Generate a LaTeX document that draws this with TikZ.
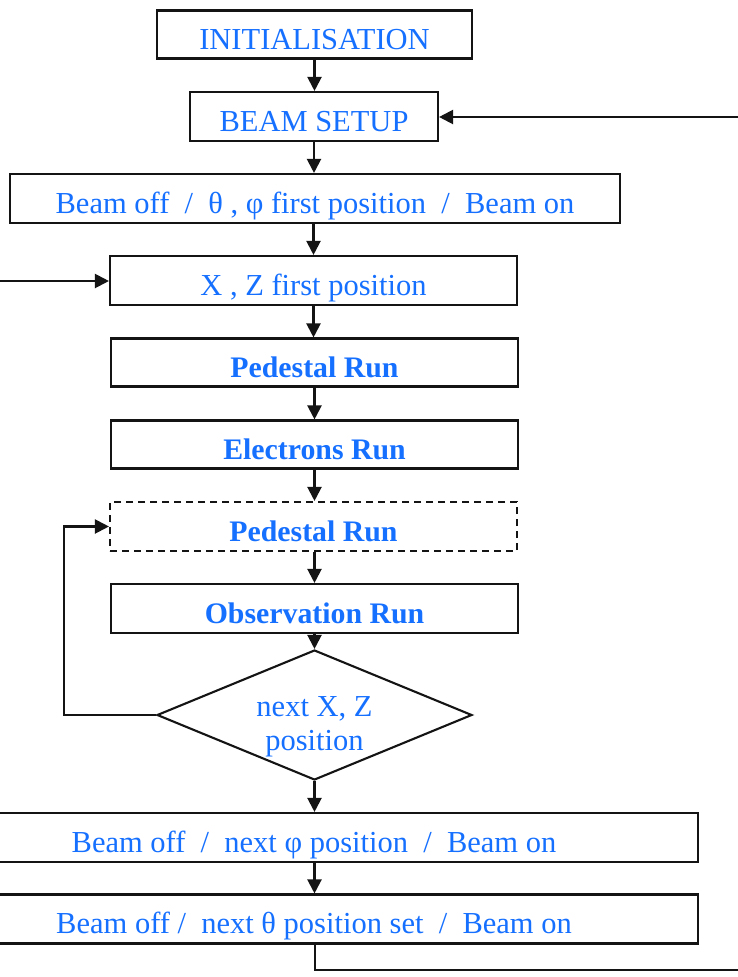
\documentclass[tikz,border=0pt]{standalone}
\usepackage{fontspec}
\setmainfont{Liberation Serif}
\usetikzlibrary{shapes.geometric,arrows.meta}
\definecolor{txtblue}{RGB}{22,112,255}
\definecolor{edge}{RGB}{20,20,20}
\begin{document}
\begin{tikzpicture}[x=1pt,y=-1pt,
  box/.style={draw=edge,line width=2.1pt,rectangle,inner sep=0pt,
    text height=29pt,text depth=0pt,
    minimum height=49pt,text=txtblue,font=\fontsize{30.5}{35}\selectfont},
  boldbox/.style={box,font=\fontsize{29.8}{35}\selectfont\bfseries},
  dashbox/.style={boldbox,dash pattern=on 7pt off 5pt},
  decision/.style={draw=edge,line width=2.1pt,diamond,aspect=2.42,inner sep=0pt,
    minimum width=315pt,minimum height=130pt},
  lbl/.style={text=txtblue,align=center,inner sep=0pt,
    font=\fontsize{30.5}{34.5}\selectfont},
  flow/.style={draw=edge,line width=2.1pt,-{Triangle[length=14pt,width=14pt]}},
  plain/.style={draw=edge,line width=2.1pt}]
\useasboundingbox (0,0) rectangle (738,977);
\clip (0,0) rectangle (738,977);
\fill[white] (0,0) rectangle (738,977);

\node[box,minimum width=315pt,minimum height=48pt] (init) at (314.5,34.5) {INITIALISATION};
\node[box,minimum width=248pt] (setup) at (314,116.5) {BEAM SETUP};
\node[box,minimum width=610pt] (first) at (315,198.5) {Beam off \ / \ θ , φ first position \ / \ Beam on};
\node[box,minimum width=407pt] (xz) at (313.5,280.5) {X , Z first position};
\node[boldbox,minimum width=407pt,minimum height=48pt] (ped1) at (314.5,362.5) {Pedestal Run};
\node[boldbox,minimum width=407pt,minimum height=48pt] (elec) at (314.5,444.5) {Electrons Run};
\node[dashbox,minimum width=407pt] (ped2) at (313.5,526.5) {Pedestal Run};
\node[boldbox,minimum width=407pt] (obs) at (314.5,608.5) {Observation Run};
\node[decision] (next) at (314.5,715) {};
\node[lbl] (nextlbl) at (314.5,727) {next X, Z\\position};
\node[box,minimum width=768pt] (phi) at (314,837.5) {Beam off \ / \ next φ position \ / \ Beam on};
\node[box,minimum width=768pt] (theta) at (314,919) {Beam off / \ next θ position set \ / \ Beam on};

\coordinate (inR) at (738,117);
\coordinate (inL) at (0,281);
\coordinate (outB) at (315,970);
\coordinate (outR) at (738,970);

\draw[flow] (init.south) -- (setup.north -| init.south);
\draw[flow] (setup.south) -- (first.north -| setup.south);
\draw[flow] (first.south -| xz.north) -- (xz.north);
\draw[flow] (xz.south) -- (ped1.north -| xz.south);
\draw[flow] (ped1.south) -- (elec.north);
\draw[flow] (elec.south) -- (ped2.north -| elec.south);
\draw[flow] (ped2.south -| obs.north) -- (obs.north);
\draw[flow] (obs.south) -- (next.north);
\draw[flow] (next.south) -- (phi.north -| next.south);
\draw[flow] (phi.south -| next.south) -- (theta.north -| next.south);

\draw[flow] (inR) -- (inR -| setup.east);
\draw[flow] (inL) -- (inL -| xz.west);
\draw[flow] (next.west) -- ++(-92,0) |- (ped2.west);
\draw[plain] (theta.south -| outB) -- (outB) -- (outR);
\end{tikzpicture}
\end{document}
